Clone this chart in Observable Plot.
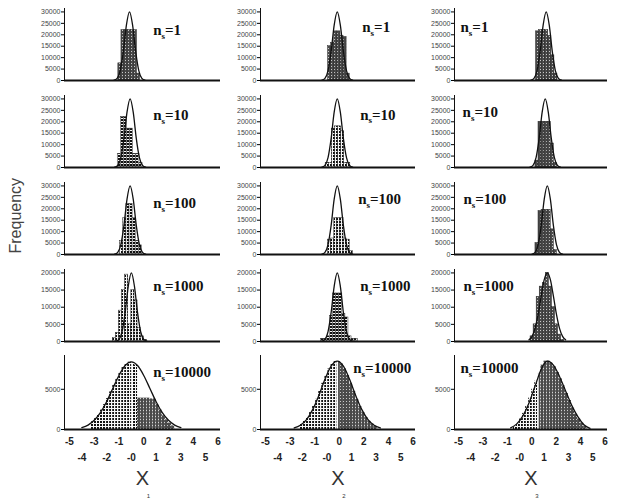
<!DOCTYPE html>
<html><head><meta charset="utf-8">
<script src="https://cdn.jsdelivr.net/npm/d3@7"></script>
<script src="https://cdn.jsdelivr.net/npm/@observablehq/plot@0.6"></script>
<style>
body{margin:0;background:#fff;}
#chart{position:relative;width:617px;height:500px;overflow:hidden;background:#fff;}
#chart svg.panel{position:absolute;}
</style></head><body>
<svg width="0" height="0" style="position:absolute">
<defs>
<pattern id="patA" width="3" height="3" patternUnits="userSpaceOnUse"><rect width="3" height="3" fill="#4a4a4a"/><rect x="1" y="1" width="1" height="1" fill="#c8c8c8"/></pattern>
<pattern id="patB" width="3" height="3" patternUnits="userSpaceOnUse"><rect width="3" height="3" fill="#f6f6f6"/><rect width="2" height="2" fill="#111"/></pattern>
</defs></svg>
<div id="chart"></div>
<script>
// ---- axis text ----
const xTickLabels = ["-5","-4","-3","-2","-1","-0","0","1","2","3","4","5","6"];
const sampleSizes = ["1","10","100","1000","10000"];
const columnNames = ["1","2","3"];
const yTicksRows = [
  [0,5000,10000,15000,20000,25000,30000],
  [0,5000,10000,15000,20000,25000,30000],
  [0,5000,10000,15000,20000,25000,30000],
  [0,5000,10000,15000,20000],
  [0,5000]
];
const yMaxRows = [31500, 31500, 31500, 21000, 9200];

// ---- histograms (bin width 0.25 in axis-position units) ----
const binWidth = 0.25;
const col1HistStart = [3.95, 3.9, 4.1, 3.5, 1.75];
const col1Hist = [
  [7500, 22000, 22000, 22000, 22000, 22000, 3000],
  [6000, 22000, 22000, 17000, 17000, 6000, 6000, 2000],
  [6000, 16000, 22000, 22000, 16000, 6000, 4000],
  [1000, 2500, 9000, 15000, 19500, 5000, 15000, 12000, 4000, 1500, 500],
  [960,1340,1820,2400,3080,3840,4670,5520,6340,7090,7700,8140,8370,8300,8000,3900,3900,3900,3900,3800,3800,3100,2400,1700,1200,800,450]
];
const col2HistStart = [5.1, 4.9, 5.1, 4.5, 2.84];
const col2Hist = [
  [15000, 16500, 21500, 21500, 19500, 19000, 3000],
  [2000, 2000, 17000, 18000, 18000, 16000, 2000, 2000],
  [6500, 7000, 16000, 16000, 16000, 7000, 6500, 1500],
  [800, 800, 1500, 7500, 14000, 14000, 14000, 8000, 7000, 1500, 800, 800],
  [660,1010,1480,2100,2860,3750,4740,5740,6700,7530,8140,8460,8460,8140,7530,6700,5740,4740,3750,2860,2100,1480,1010,660,400]
];
const col3HistStart = [6.35, 6.3, 6.3, 5.9, 4.5];
const col3Hist = [
  [21500, 22000, 22000, 22000, 19500, 11000, 3000],
  [3000, 20000, 20000, 20000, 20000, 10500, 2000],
  [5000, 19000, 19500, 19500, 19500, 11000, 2000],
  [1500, 5000, 13000, 16000, 17000, 20000, 16000, 10000, 5000, 2000, 500],
  [300,700,1300,2000,2900,3900,5000,6000,7000,8000,8500,8500,8300,7800,7100,6300,5400,4500,3600,2700,1900,1300,800,400]
];

// ---- fitted curves ----
const curveStepRows = [0.25, 0.25, 0.25, 0.25, 0.5];
const col1CurveStart = [3.6, 3.65, 3.65, 3.75, 1.0];
const col1Curve = [
  [140,940,4300,12600,24200,30000,24200,12600,4300,940,140],
  [140,940,4300,12600,24200,30000,24200,12600,4300,940,140],
  [140,940,4300,12600,24200,30000,24200,12600,4300,940,140],
  [100,630,2870,8400,16100,20000,16100,8400,2870,630,100],
  [240,550,1140,2100,3450,5100,6720,7950,8400,7950,6720,5100,3450,2100,1140,550,240]
];
const col2CurveStart = [4.59, 4.59, 4.59, 4.59, 2.34];
const col2Curve = [
  [140,940,4300,12600,24200,30000,24200,12600,4300,940,140],
  [140,940,4300,12600,24200,30000,24200,12600,4300,940,140],
  [140,940,4300,12600,24200,30000,24200,12600,4300,940,140],
  [100,630,2870,8400,16100,20000,16100,8400,2870,630,100],
  [190,520,1230,2470,4230,6240,7870,8500,7870,6240,4230,2470,1230,520,190]
];
const col3CurveStart = [5.93, 5.85, 6.02, 5.77, 4.27];
const col3Curve = [
  [140,940,4300,12600,24200,30000,24200,12600,4300,940,140],
  [140,940,4300,12600,24200,30000,24200,12600,4300,940,140],
  [140,940,4300,12600,24200,30000,24200,12600,4300,940,140],
  [490,1510,3840,7900,13240,18040,20000,18040,13240,7900,3840,1510,490],
  [200,700,1700,3300,5400,7500,8500,8000,6600,4800,3000,1600,600,150]
];

// ---- n_s annotation anchors (axis units / frequency) ----
const col1LabelX = [6.76, 6.76, 6.76, 6.76, 6.76];
const col1LabelY = [22000, 22900, 22300, 16200, 7100];
const col2LabelX = [7.87, 7.7, 7.54, 7.7, 7.14];
const col2LabelY = [23500, 23100, 24000, 16200, 7600];
const col3LabelX = [0.16, 0.33, 0.4, 0.4, 0.16];
const col3LabelY = [23400, 24400, 24000, 16200, 7600];

// bottom row: where the light part of the histogram ends and the white gap line
const row5Split = [5.5, 5.84, 6.5];
const row5Gap = [5.05, 5.84, 6.5];

// ---- assemble ----
const histStart = [col1HistStart, col2HistStart, col3HistStart];
const hist = [col1Hist, col2Hist, col3Hist];
const curveStart = [col1CurveStart, col2CurveStart, col3CurveStart];
const curves = [col1Curve, col2Curve, col3Curve];
const labelX = [col1LabelX, col2LabelX, col3LabelX];
const labelY = [col1LabelY, col2LabelY, col3LabelY];

// layout (pixels)
const colLayout = [
  {left: 64, w: 156, domain: [-0.4, 12.2], mL: 60},
  {left: 260, w: 155, domain: [-0.4, 12.2], mL: 44},
  {left: 454, w: 153, domain: [-0.33, 12.2], mL: 44}
];
const rowLayout = [
  {base: 80, h: 72}, {base: 167, h: 72}, {base: 254, h: 72}, {base: 341, h: 72}, {base: 429, h: 74}
];

const chart = document.getElementById("chart");

function panel(c, r) {
  const L = colLayout[c], R = rowLayout[r];
  const bottom = r === 4;
  const mT = 6, mR = 4, mB = bottom ? 70 : 3;
  const bins = hist[c][r].map((v, i) => ({x1: histStart[c][r] + i * binWidth, x2: histStart[c][r] + (i + 1) * binWidth, y: v}));
  const curve = curves[c][r].map((v, i) => ({x: curveStart[c][r] + i * curveStepRows[r], y: v}));
  const marks = [];
  if (bottom) {
    const s = row5Split[c] - 1e-6;
    marks.push(Plot.rectY(bins.filter(b => b.x1 < s), {x1: "x1", x2: "x2", y: "y", fill: "url(#patB)", inset: 0}));
    marks.push(Plot.rectY(bins.filter(b => b.x1 >= s), {x1: "x1", x2: "x2", y: "y", fill: "url(#patA)", inset: 0}));
    marks.push(Plot.ruleX([row5Gap[c]], {y1: 0, y2: d3.max(hist[c][r]), stroke: "#fff", strokeWidth: 1.6}));
  } else {
    const pat = (r > 0 && c < 2) ? "url(#patB)" : "url(#patA)";
    marks.push(Plot.rectY(bins, {x1: "x1", x2: "x2", y: "y", fill: pat, stroke: "#222", strokeWidth: 0.5, inset: 0}));
  }
  marks.push(Plot.line(curve, {x: "x", y: "y", curve: "monotone-x", stroke: "#111", strokeWidth: 1.3}));
  marks.push(Plot.frame({anchor: "left", stroke: "#111", strokeWidth: 1}));
  marks.push(Plot.ruleY([0], {stroke: "#111", strokeWidth: 2}));
  marks.push(Plot.axisY(yTicksRows[r], {tickFormat: d => String(d), fontSize: 7, fill: "#444", tickSize: 3, tickPadding: 1, label: null, fontFamily: "Liberation Sans"}));
  marks.push(Plot.text([sampleSizes[r]], {
    x: () => labelX[c][r], y: () => labelY[c][r], text: d => "nₛ=" + d,
    textAnchor: "start", fontFamily: "Liberation Serif", fontWeight: "bold", fontSize: 15, fill: "#111"
  }));
  if (bottom) {
    const even = xTickLabels.map((_, i) => i).filter(i => i % 2 === 0);
    const odd = xTickLabels.map((_, i) => i).filter(i => i % 2 === 1);
    marks.push(Plot.axisX(even, {tickFormat: i => xTickLabels[i], tickSize: 0, tickPadding: 8, fontSize: 10, fontWeight: "bold", fill: "#222", label: null, fontFamily: "Liberation Sans"}));
    marks.push(Plot.axisX(odd, {tickFormat: i => xTickLabels[i], tickSize: 0, tickPadding: 24, fontSize: 10, fontWeight: "bold", fill: "#222", label: null, fontFamily: "Liberation Sans"}));
    marks.push(Plot.text(["X"], {frameAnchor: "bottom", dy: 55, fontSize: 20, fill: "#333", fontFamily: "Liberation Sans"}));
    marks.push(Plot.text([columnNames[c]], {frameAnchor: "bottom", dx: 6, dy: 68, fontSize: 6, fill: "#333", fontFamily: "Liberation Sans"}));
  }
  if (c === 0 && r === 2) {
    marks.push(Plot.text(["Frequency"], {frameAnchor: "left", rotate: -90, dx: -49, dy: 35, fontSize: 16, fill: "#444", fontFamily: "Liberation Sans"}));
  }
  const svg = Plot.plot({
    width: L.mL + L.w + mR,
    height: mT + R.h + mB,
    marginLeft: L.mL, marginRight: mR, marginTop: mT, marginBottom: mB,
    style: {background: "transparent", overflow: "visible"},
    x: {domain: L.domain, ...(bottom ? {} : {axis: null})},
    y: {domain: [0, yMaxRows[r]]},
    marks
  });
  svg.classList.add("panel");
  svg.style.left = (L.left - L.mL) + "px";
  svg.style.top = (R.base - R.h - mT) + "px";
  // subscript "s" in the n_s annotations
  svg.querySelectorAll("text").forEach(t => {
    const s = t.textContent;
    if (s.startsWith("nₛ=")) {
      t.textContent = "";
      const ns = "http://www.w3.org/2000/svg";
      const a = document.createElementNS(ns, "tspan"); a.textContent = "n";
      const b = document.createElementNS(ns, "tspan"); b.textContent = "s"; b.setAttribute("font-size", "9"); b.setAttribute("dy", "4");
      const d = document.createElementNS(ns, "tspan"); d.textContent = s.slice(2); d.setAttribute("dy", "-4");
      t.append(a, b, d);
    }
  });
  chart.appendChild(svg);
}

for (let r = 0; r < 5; r++) for (let c = 0; c < 3; c++) panel(c, r);
</script>
</body></html>
